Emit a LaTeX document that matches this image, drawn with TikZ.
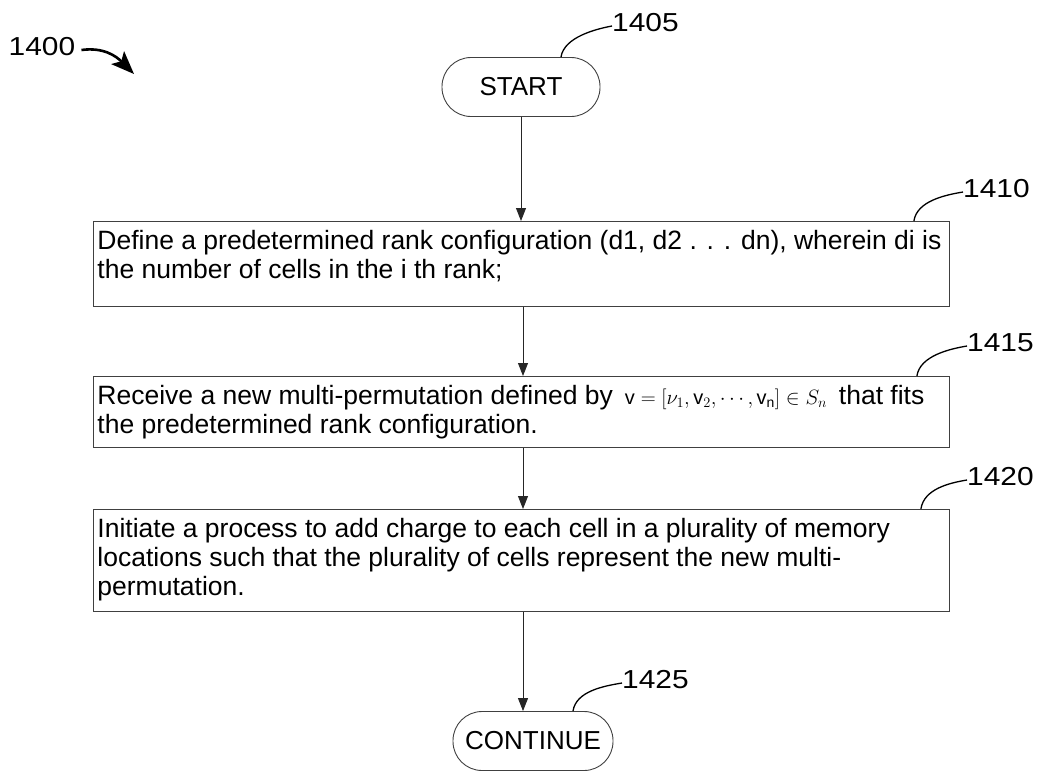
\documentclass[tikz,border=0pt]{standalone}
\usepackage{fontspec}
\setmainfont{Liberation Sans}
\newfontfamily\lblfont[FakeStretch=1.15]{Liberation Sans}
\usetikzlibrary{arrows.meta}
\begin{document}
\begin{tikzpicture}[x=1pt,y=-1pt,
 box/.style={draw=black!75, line width=0.9pt, anchor=north west, inner xsep=4pt, inner ysep=0pt, font=\fontsize{26.5}{29}\selectfont},
 term/.style={draw=black!75, line width=0.9pt, rounded corners=29pt, minimum width=158pt, minimum height=59pt, inner sep=0pt, font=\fontsize{26}{29}\selectfont},
 lbl/.style={font=\lblfont\fontsize{26}{30}\selectfont, inner sep=0pt},
 arr/.style={line width=0.9pt, draw=black!85, -{Triangle[length=13pt,width=10pt]}},
 lead/.style={line width=1.3pt}]
\useasboundingbox (0,0) rectangle (1039,772);
\coordinate (ax) at (523,0);
% terminals
\node[term] (start) at (521,87) {START};
\node[term, minimum width=160pt] (cont) at (533,741) {CONTINUE};
% process boxes
\node[box] (b1) at (93,221) {\parbox[c][85pt][t]{848pt}{\raggedright\rule{0pt}{28pt}Define a predetermined rank configuration (d1, d2 . . . dn), wherein di is\\the number of cells in the i th rank;}};
\node[box] (b2) at (93,376) {\parbox[c][71pt][t]{848pt}{\raggedright\rule{0pt}{28pt}Receive a new multi-permutation defined by\hspace{12pt}{\fontsize{20}{22}\selectfont$\mathrm{v}=[\nu_1,\mathrm{v}_2,\cdots,\mathrm{v}_{\mathrm{n}}]\in S_n$}\hspace{12pt}that fits\\the predetermined rank configuration.}};
\node[box] (b3) at (93,509) {\parbox[c][102pt][t]{848pt}{\raggedright\rule{0pt}{28pt}Initiate a process to add charge to each cell in a plurality of memory\\locations such that the plurality of cells represent the new multi-\\permutation.}};
% connectors
\draw[arr] (start.south) -- (b1.north -| start.south);
\draw[arr] (b1.south -| ax) -- (b2.north -| ax);
\draw[arr] (b2.south -| ax) -- (b3.north -| ax);
\draw[arr] (b3.south -| ax) -- (cont.north -| ax);
% labels
\node[lbl] (l1400) at (42,47) {1400};
\coordinate (p1400) at (134,74);
\draw[line width=2.6pt, -{Stealth[length=23pt,width=18pt,inset=5pt]}] ([xshift=6pt,yshift=-3pt]l1400.east) .. controls +(22,-3) and +(-18,-18) .. (p1400);
\node[lbl, anchor=west] (l1405) at (612,23) {1405};
\draw[lead] ([xshift=40pt]start.north) .. controls +(3,-20) and +(-16,3) .. ([yshift=-3pt]l1405.west);
\node[lbl, anchor=west] (l1410) at (963,189) {1410};
\draw[lead] ([xshift=-36pt]b1.north east) .. controls +(3,-20) and +(-18,3) .. ([yshift=-3pt]l1410.west);
\node[lbl, anchor=west] (l1415) at (967,343) {1415};
\draw[lead] ([xshift=-33pt]b2.north east) .. controls +(3,-20) and +(-18,3) .. ([yshift=-3pt]l1415.west);
\node[lbl, anchor=west] (l1420) at (967,477) {1420};
\draw[lead] ([xshift=-29pt]b3.north east) .. controls +(3,-20) and +(-18,3) .. ([yshift=-3pt]l1420.west);
\node[lbl, anchor=west] (l1425) at (622,680) {1425};
\draw[lead] ([xshift=40pt]cont.north) .. controls +(3,-20) and +(-18,3) .. ([yshift=-3pt]l1425.west);
\end{tikzpicture}
\end{document}
